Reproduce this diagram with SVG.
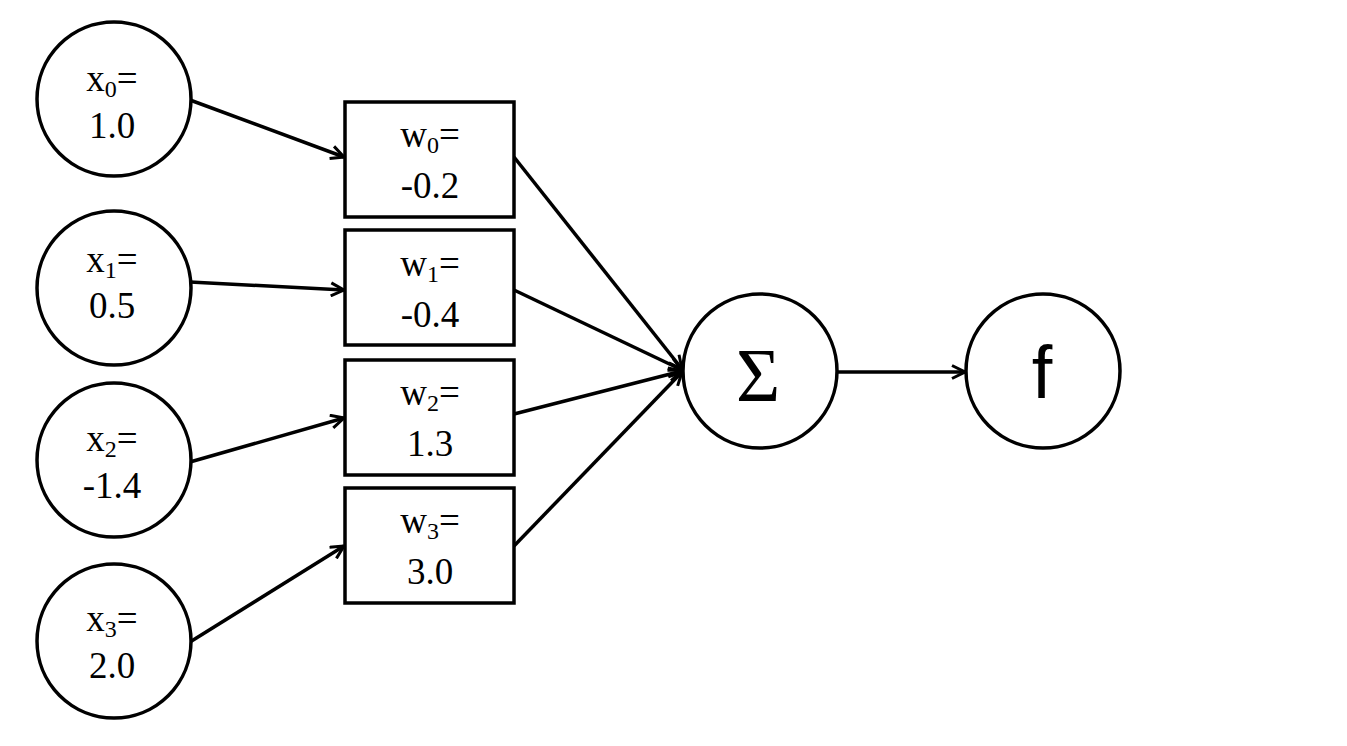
<svg xmlns="http://www.w3.org/2000/svg" width="1347" height="746" viewBox="0 0 1347 746">
<defs>
<marker id="arr" markerWidth="18" markerHeight="16" refX="15" refY="8" orient="auto" markerUnits="userSpaceOnUse">
<path d="M2,1.5 L15,8 L2,14.5" fill="none" stroke="#000" stroke-width="3"/>
</marker>
<style>
.n{fill:#fff;stroke:#000;stroke-width:3.5}
.t{font-family:"Liberation Serif","Times New Roman",serif;font-size:37px;fill:#000;text-anchor:middle}
.s{font-size:24px}
.c{stroke:#000;stroke-width:3.5;fill:none;marker-end:url(#arr)}
</style>
</defs>
<rect width="1347" height="746" fill="#fff"/>
<g id="connectors">
<line class="c" x1="190" y1="100" x2="344" y2="157"/>
<line class="c" x1="190" y1="282" x2="344" y2="290"/>
<line class="c" x1="190" y1="462" x2="344" y2="418"/>
<line class="c" x1="190" y1="642" x2="344" y2="546"/>
<line class="c" x1="514" y1="157" x2="682" y2="369"/>
<line class="c" x1="514" y1="290" x2="682" y2="370"/>
<line class="c" x1="514" y1="414" x2="682" y2="371"/>
<line class="c" x1="514" y1="546" x2="682" y2="372"/>
<line class="c" x1="838" y1="372" x2="965" y2="372"/>
</g>
<g id="x0"><circle class="n" cx="114" cy="99" r="77"/><text class="t" x="112" y="91">x<tspan class="s" dy="6">0</tspan><tspan dy="-6">=</tspan></text><text class="t" x="112" y="138">1.0</text></g>
<g id="x1"><circle class="n" cx="114" cy="288" r="77"/><text class="t" x="112" y="272">x<tspan class="s" dy="6">1</tspan><tspan dy="-6">=</tspan></text><text class="t" x="112" y="318">0.5</text></g>
<g id="x2"><circle class="n" cx="114" cy="460" r="77"/><text class="t" x="112" y="451">x<tspan class="s" dy="6">2</tspan><tspan dy="-6">=</tspan></text><text class="t" x="112" y="498">-1.4</text></g>
<g id="x3"><circle class="n" cx="114" cy="641" r="77"/><text class="t" x="112" y="631">x<tspan class="s" dy="6">3</tspan><tspan dy="-6">=</tspan></text><text class="t" x="112" y="678">2.0</text></g>
<g id="w0"><rect class="n" x="345" y="102" width="169" height="115"/><text class="t" x="430" y="147">w<tspan class="s" dy="6">0</tspan><tspan dy="-6">=</tspan></text><text class="t" x="430" y="198">-0.2</text></g>
<g id="w1"><rect class="n" x="345" y="230" width="169" height="115"/><text class="t" x="430" y="276">w<tspan class="s" dy="6">1</tspan><tspan dy="-6">=</tspan></text><text class="t" x="430" y="327">-0.4</text></g>
<g id="w2"><rect class="n" x="345" y="360" width="169" height="115"/><text class="t" x="430" y="405">w<tspan class="s" dy="6">2</tspan><tspan dy="-6">=</tspan></text><text class="t" x="430" y="456">1.3</text></g>
<g id="w3"><rect class="n" x="345" y="488" width="169" height="115"/><text class="t" x="430" y="533">w<tspan class="s" dy="6">3</tspan><tspan dy="-6">=</tspan></text><text class="t" x="430" y="584">3.0</text></g>
<g id="sum"><circle class="n" cx="760" cy="371" r="77"/><text x="758" y="401" font-family="'Liberation Serif',serif" font-size="76" text-anchor="middle">Σ</text></g>
<g id="f"><circle class="n" cx="1043" cy="371" r="77"/><text x="1042" y="398" font-family="'Liberation Sans',Arial,sans-serif" font-size="74" text-anchor="middle">f</text></g>
</svg>
